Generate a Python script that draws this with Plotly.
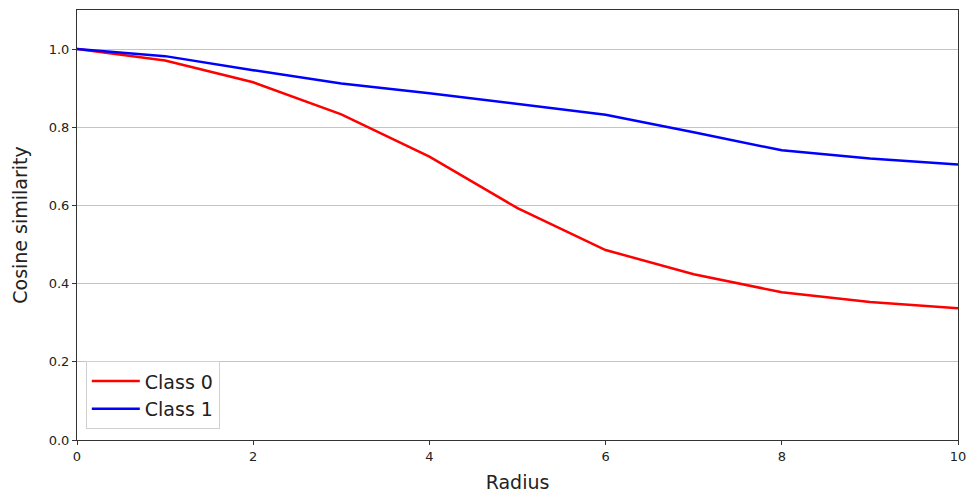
import plotly.graph_objects as go

radius = [0, 1, 2, 3, 4, 5, 6, 7, 8, 9, 10]
class0 = [1.0, 0.971, 0.915, 0.833, 0.725, 0.593, 0.486, 0.424, 0.378, 0.353, 0.337]
class1 = [1.0, 0.982, 0.946, 0.912, 0.887, 0.859, 0.832, 0.787, 0.741, 0.720, 0.705]
series_names = ["Class 0", "Class 1"]
x_ticks = [0, 2, 4, 6, 8, 10]
y_ticks = [0.0, 0.2, 0.4, 0.6, 0.8, 1.0]

fig = go.Figure()
fig.add_trace(go.Scatter(x=radius, y=class0, mode="lines", name=series_names[0],
                         line=dict(color="#ff0000", width=2.5)))
fig.add_trace(go.Scatter(x=radius, y=class1, mode="lines", name=series_names[1],
                         line=dict(color="#0000ff", width=2.5)))

axis_common = dict(showline=True, linecolor="#333333", linewidth=1, mirror=True,
                   ticks="outside", ticklen=4, tickcolor="#333333", automargin=False,
                   tickfont=dict(size=13, color="#222222"), zeroline=False)

fig.update_layout(
    width=969, height=495,
    margin=dict(l=77, r=11, t=10, b=55),
    paper_bgcolor="#ffffff", plot_bgcolor="#ffffff",
    font=dict(family="DejaVu Sans", color="#222222"),
    xaxis=dict(range=[0, 10], tickvals=x_ticks, showgrid=False,
               title=dict(text="Radius", font=dict(size=19), standoff=13), **axis_common),
    yaxis=dict(range=[0, 1.1], tickvals=y_ticks, tickformat=".1f", showgrid=True,
               gridcolor="#c4c4c4", gridwidth=1,
               title=dict(text="Cosine similarity", font=dict(size=19), standoff=16), **axis_common),
    legend=dict(x=0.01, y=0.025, xanchor="left", yanchor="bottom",
                bgcolor="rgba(255,255,255,0.8)", bordercolor="#d0d0d0", borderwidth=1,
                font=dict(size=19, color="#222222"), tracegroupgap=2, itemwidth=48),
    showlegend=True,
)

fig.write_html("out.html")
